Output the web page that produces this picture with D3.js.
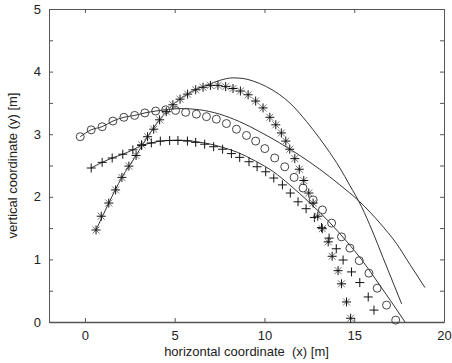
<!DOCTYPE html>
<html>
<head>
<meta charset="utf-8">
<script src="https://cdn.jsdelivr.net/npm/d3@7"></script>
<style>
  body { margin: 0; background: #fff; }
  svg { display: block; font-family: "Liberation Sans", Arial, sans-serif; }
</style>
</head>
<body>
<div id="chart"></div>
<script>
// measured points (markers)
const circX = [-0.26, 0.35, 0.96, 1.56, 2.17, 2.77, 3.34, 3.94, 4.50, 5.05, 5.61, 6.21, 6.77, 7.32, 7.88, 8.44, 9.00, 9.51, 10.02, 10.57, 11.13, 11.65, 12.15, 12.71, 13.23, 13.74, 14.29, 14.76, 15.28, 15.82, 16.28, 16.80, 17.31];
const circY = [2.96, 3.07, 3.12, 3.21, 3.27, 3.30, 3.34, 3.37, 3.39, 3.38, 3.35, 3.32, 3.28, 3.24, 3.17, 3.08, 2.98, 2.89, 2.77, 2.62, 2.48, 2.31, 2.14, 1.95, 1.79, 1.58, 1.36, 1.18, 0.98, 0.78, 0.54, 0.27, 0.03];

const plusX = [0.35, 0.96, 1.52, 2.11, 2.67, 3.16, 3.70, 4.20, 4.72, 5.18, 5.71, 6.17, 6.67, 7.17, 7.67, 8.16, 8.62, 9.14, 9.59, 10.07, 10.52, 11.00, 11.44, 11.87, 12.32, 12.78, 13.18, 13.60, 14.00, 14.38, 14.85, 15.31, 15.78, 16.10];
const plusY = [2.46, 2.55, 2.62, 2.68, 2.75, 2.82, 2.86, 2.89, 2.90, 2.90, 2.89, 2.87, 2.84, 2.80, 2.76, 2.69, 2.63, 2.56, 2.48, 2.40, 2.30, 2.19, 2.06, 1.92, 1.81, 1.67, 1.51, 1.34, 1.17, 0.99, 0.80, 0.63, 0.40, 0.19];

const starX = [0.62, 0.91, 1.33, 1.71, 2.06, 2.45, 2.85, 3.16, 3.49, 3.83, 4.16, 4.53, 4.90, 5.30, 5.72, 6.17, 6.58, 6.99, 7.41, 7.84, 8.25, 8.66, 9.09, 9.51, 9.92, 10.30, 10.63, 10.94, 11.19, 11.41, 11.69, 11.94, 12.19, 12.47, 12.71, 12.97, 13.22, 13.55, 13.77, 14.10, 14.29, 14.57, 14.80];
const starY = [1.47, 1.69, 1.90, 2.11, 2.31, 2.49, 2.66, 2.83, 2.96, 3.08, 3.23, 3.36, 3.47, 3.56, 3.64, 3.71, 3.75, 3.78, 3.78, 3.76, 3.73, 3.69, 3.63, 3.53, 3.42, 3.27, 3.15, 3.02, 2.89, 2.76, 2.61, 2.44, 2.26, 2.06, 1.90, 1.69, 1.49, 1.28, 1.05, 0.82, 0.61, 0.32, 0.06];

// model curves
const fitStarX = [0.62, 1.33, 2.06, 2.85, 3.49, 4.16, 4.90, 5.72, 6.30, 6.77, 7.51, 8.25, 8.81, 9.36, 10.11, 10.85, 11.41, 11.97, 12.71, 13.46, 14.20, 14.76, 15.41, 16.00, 16.60, 17.64];
const fitStarY = [1.47, 1.90, 2.31, 2.66, 2.96, 3.23, 3.47, 3.64, 3.73, 3.78, 3.86, 3.90, 3.89, 3.85, 3.76, 3.63, 3.50, 3.33, 3.07, 2.78, 2.46, 2.18, 1.84, 1.46, 1.03, 0.29];

const fitCircX = [-0.26, 0.35, 0.96, 1.56, 2.17, 2.77, 3.34, 3.94, 4.50, 5.30, 6.39, 7.51, 8.62, 9.74, 10.85, 11.97, 13.08, 14.20, 15.31, 16.43, 17.36, 18.10, 18.94];
const fitCircY = [2.96, 3.07, 3.12, 3.21, 3.27, 3.30, 3.34, 3.37, 3.39, 3.41, 3.39, 3.32, 3.20, 3.04, 2.86, 2.66, 2.44, 2.19, 1.92, 1.58, 1.25, 0.92, 0.55];

const fitPlusX = [0.35, 0.96, 1.52, 2.11, 2.67, 3.16, 3.70, 4.20, 4.72, 5.18, 5.71, 6.17, 6.67, 7.17, 7.67, 8.50, 9.50, 10.50, 11.41, 12.50, 13.60, 14.60, 15.40, 16.15, 17.00, 17.83];
const fitPlusY = [2.46, 2.55, 2.62, 2.68, 2.75, 2.82, 2.86, 2.89, 2.90, 2.905, 2.90, 2.88, 2.86, 2.83, 2.79, 2.71, 2.57, 2.40, 2.19, 1.91, 1.60, 1.28, 1.00, 0.70, 0.35, 0.00];

const xTicks = [0, 5, 10, 15, 20];
const yTicks = [0, 0.5, 1, 1.5, 2, 2.5, 3, 3.5, 4, 4.5, 5];

const W = 452, H = 363;
const margin = { top: 9, right: 8, bottom: 41, left: 49 };
const width = W - margin.left - margin.right;
const height = H - margin.top - margin.bottom;

const svg = d3.select('#chart').append('svg')
  .attr('width', W)
  .attr('height', H);

const g = svg.append('g')
  .attr('transform', `translate(${margin.left},${margin.top})`);

const x = d3.scaleLinear().domain([-2, 20]).range([0, width]);
const y = d3.scaleLinear().domain([0, 5]).range([height, 0]);

const axisColor = '#555';
const textColor = '#222';

// axes with inward ticks, mirrored on top/right like matlab
function styleAxis(sel) {
  sel.select('.domain').attr('stroke', axisColor);
  sel.selectAll('.tick line').attr('stroke', axisColor);
  sel.selectAll('.tick text').attr('fill', textColor).style('font-size', '13px');
}

g.append('g')
  .attr('transform', `translate(0,${height})`)
  .call(d3.axisBottom(x).tickValues(xTicks).tickSize(-4).tickSizeOuter(0).tickPadding(9))
  .call(styleAxis)
  .select('.domain').attr('stroke-width', 1.5);

g.append('g')
  .call(d3.axisTop(x).tickValues(xTicks).tickSize(-4).tickSizeOuter(0).tickFormat(''))
  .call(styleAxis);

g.append('g')
  .call(d3.axisLeft(y).tickValues(yTicks).tickSize(-4).tickSizeOuter(0).tickPadding(8)
    .tickFormat(d => Number.isInteger(d) ? d : ''))
  .call(styleAxis);

g.append('g')
  .attr('transform', `translate(${width},0)`)
  .call(d3.axisRight(y).tickValues(yTicks).tickSize(-4).tickSizeOuter(0).tickFormat(''))
  .call(styleAxis);

// model lines
const line = d3.line()
  .x(d => x(d[0]))
  .y(d => y(d[1]))
  .curve(d3.curveMonotoneX);

[[fitStarX, fitStarY], [fitCircX, fitCircY], [fitPlusX, fitPlusY]].forEach(([xs, ys]) => {
  g.append('path')
    .datum(xs.map((v, i) => [v, ys[i]]))
    .attr('fill', 'none')
    .attr('stroke', '#333')
    .attr('stroke-width', 1)
    .attr('d', line);
});

// markers
g.selectAll('.circ')
  .data(circX.map((v, i) => [v, circY[i]]))
  .enter().append('circle')
  .attr('cx', d => x(d[0]))
  .attr('cy', d => y(d[1]))
  .attr('r', 4)
  .attr('fill', 'none')
  .attr('stroke', '#444')
  .attr('stroke-width', 1);

g.selectAll('.plus')
  .data(plusX.map((v, i) => [v, plusY[i]]))
  .enter().append('path')
  .attr('transform', d => `translate(${x(d[0])},${y(d[1])})`)
  .attr('d', 'M-4.5,0H4.5M0,-4.5V4.5')
  .attr('stroke', '#111')
  .attr('stroke-width', 1);

const stars = g.selectAll('.star')
  .data(starX.map((v, i) => [v, starY[i]]))
  .enter().append('g')
  .attr('transform', d => `translate(${x(d[0])},${y(d[1])})`);

stars.append('path')
  .attr('d', 'M-3.5,-3.5L3.5,3.5M-3.5,3.5L3.5,-3.5')
  .attr('stroke', '#777')
  .attr('stroke-width', 1);

stars.append('path')
  .attr('d', 'M-4.5,0H4.5M0,-4.5V4.5')
  .attr('stroke', '#111')
  .attr('stroke-width', 1);

// axis titles
svg.append('text')
  .attr('x', margin.left + width / 2)
  .attr('y', 356)
  .attr('text-anchor', 'middle')
  .attr('fill', textColor)
  .style('font-size', '13px')
  .style('white-space', 'pre')
  .text('horizontal coordinate  (x) [m]');

svg.append('text')
  .attr('transform', `translate(17,${margin.top + height / 2}) rotate(-90)`)
  .attr('text-anchor', 'middle')
  .attr('fill', textColor)
  .style('font-size', '13px')
  .text('vertical coordinate (y) [m]');
</script>
</body>
</html>
